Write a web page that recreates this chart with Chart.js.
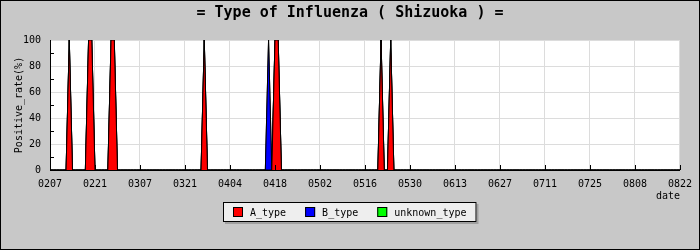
<!DOCTYPE html>
<html>
<head>
<meta charset="utf-8">
<title>Type of Influenza (Shizuoka)</title>
<style>
  html, body { margin: 0; padding: 0; background: #c8c8c8; }
  canvas { display: block; }
</style>
<script src="https://cdn.jsdelivr.net/npm/chart.js@4.4.1/dist/chart.umd.min.js"></script>
</head>
<body>
<canvas id="chart" width="700" height="250"></canvas>
<script>
// Axis labels, every 14 days from 02/07 to 08/22
const tickLabels = ['0207', '0221', '0307', '0321', '0404', '0418', '0502', '0516',
                    '0530', '0613', '0627', '0711', '0725', '0808', '0822'];
const dayCount = 197;           // 02/07 .. 08/22 inclusive
const tickStep = 14;

// Days (counted from 02/07) with positive samples, and the positive rate (%)
const aDays   = [6, 12, 13, 19, 20, 48, 70, 71, 103, 106];
const aRates  = [100, 100, 100, 100, 100, 100, 100, 100, 100, 100];
const bDays   = [68];
const bRates  = [100];
const unknownDays  = [];
const unknownRates = [];

const seriesNames  = ['A_type', 'B_type', 'unknown_type'];
const seriesColors = ['#ff0000', '#0000ff', '#00ff00'];

// One point per day; days without a report are 0 %
function dailySeries(days, rates) {
  const pts = [];
  for (let d = 0; d < dayCount; d++) {
    const k = days.indexOf(d);
    pts.push({ x: d, y: k >= 0 ? rates[k] : 0 });
  }
  return pts;
}

const MONO = '"DejaVu Sans Mono", "Liberation Mono", monospace';

// Grey page, white plot, inner tick marks, framed legend, outer border
const framePlugin = {
  id: 'frame',
  beforeDraw(chart) {
    const { ctx, chartArea: a, width, height } = chart;
    ctx.save();
    ctx.fillStyle = '#c8c8c8';
    ctx.fillRect(0, 0, width, height);
    ctx.fillStyle = '#ffffff';
    ctx.fillRect(a.left, a.top, a.right - a.left, a.bottom - a.top);
    ctx.restore();
  },
  afterDatasetsDraw(chart) {
    const { ctx, chartArea: a, scales } = chart;
    ctx.save();
    ctx.strokeStyle = '#000';
    ctx.lineWidth = 1;
    ctx.beginPath();
    // x ticks pointing into the plot
    scales.x.ticks.forEach(t => {
      const px = Math.round(scales.x.getPixelForValue(t.value)) + 0.5;
      ctx.moveTo(px, a.bottom);
      ctx.lineTo(px, a.bottom - 5);
    });
    // y minor ticks between the labelled ones
    const yt = scales.y.ticks;
    for (let i = 0; i < yt.length - 1; i++) {
      const mid = (yt[i].value + yt[i + 1].value) / 2;
      const py = Math.round(scales.y.getPixelForValue(mid)) + 0.5;
      ctx.moveTo(a.left, py);
      ctx.lineTo(a.left + 4, py);
    }
    ctx.stroke();
    ctx.restore();
  },
  afterDraw(chart) {
    const { ctx, width, height } = chart;
    ctx.save();
    // legend
    ctx.font = '10px ' + MONO;
    ctx.textBaseline = 'middle';
    const box = 10, textGap = 7, itemGap = 19, padX = 10;
    const items = chart.data.datasets.map(ds => ({
      text: ds.label, color: ds.backgroundColor,
      w: box + textGap + ctx.measureText(ds.label).width
    }));
    const total = items.reduce((s, it) => s + it.w, 0) + itemGap * (items.length - 1);
    const cy = 212;
    let x = Math.round(width / 2 - total / 2);
    const fx = x - padX, fy = cy - 10, fw = total + padX * 2, fh = 20;
    ctx.fillStyle = '#a0a0a0';
    ctx.fillRect(fx + 2, fy + 2, fw, fh);
    ctx.fillStyle = '#eeeeee';
    ctx.fillRect(fx, fy, fw, fh);
    ctx.strokeStyle = '#000';
    ctx.lineWidth = 1;
    ctx.strokeRect(fx + 0.5, fy + 0.5, fw - 1, fh - 1);
    items.forEach(it => {
      ctx.fillStyle = it.color;
      ctx.fillRect(x, cy - 5, box, box);
      ctx.strokeRect(x + 0.5, cy - 4.5, box - 1, box - 1);
      ctx.fillStyle = '#000';
      ctx.fillText(it.text, x + box + textGap, cy + 1);
      x += it.w + itemGap;
    });
    // outer border
    ctx.strokeStyle = '#000';
    ctx.strokeRect(0.5, 0.5, width - 1, height - 1);
    ctx.restore();
  }
};

const datasets = [
  [aDays, aRates], [bDays, bRates], [unknownDays, unknownRates]
].map(([days, rates], i) => ({
  label: seriesNames[i],
  data: dailySeries(days, rates),
  backgroundColor: seriesColors[i],
  borderColor: '#000000',
  borderWidth: 1,
  pointRadius: 0,
  tension: 0,
  fill: i === 0 ? 'origin' : '-1'
}));

new Chart(document.getElementById('chart'), {
  type: 'line',
  data: { datasets },
  options: {
    responsive: false,
    animation: false,
    events: [],
    layout: { padding: { left: 0, right: 0, top: 0, bottom: 48 } },
    plugins: {
      legend: { display: false },
      tooltip: { enabled: false },
      title: {
        display: true,
        text: '= Type of Influenza ( Shizuoka ) =',
        color: '#000',
        font: { family: MONO, size: 15, weight: 'bold', lineHeight: 1.2 },
        padding: { top: 4, bottom: 18 }
      }
    },
    scales: {
      x: {
        type: 'linear',
        min: 0,
        max: dayCount - 1,
        afterFit(s) { s.height = 32; },
        ticks: {
          stepSize: tickStep,
          autoSkip: false,
          maxRotation: 0,
          padding: 8,
          color: '#000',
          font: { family: MONO, size: 10 },
          callback: (v, i) => tickLabels[i]
        },
        grid: { color: '#dcdcdc', drawTicks: false },
        border: { color: '#000', width: 1 },
        title: {
          display: true, text: 'date', align: 'end', color: '#000',
          font: { family: MONO, size: 10 }, padding: { top: 0, bottom: 0 }
        }
      },
      y: {
        stacked: true,
        min: 0,
        max: 100,
        afterFit(s) { s.width = 50; },
        ticks: {
          stepSize: 20,
          padding: 9,
          color: '#000',
          font: { family: MONO, size: 10 }
        },
        grid: { color: '#dcdcdc', drawTicks: false },
        border: { color: '#000', width: 1 },
        title: {
          display: true, text: 'Positive_rate(%)', color: '#000',
          font: { family: MONO, size: 10 }, padding: { top: 13, bottom: 0 }
        }
      },
      yRight: {
        position: 'right',
        display: true,
        afterFit(s) { s.width = 19; },
        ticks: { display: false },
        grid: { display: false, drawOnChartArea: false, drawTicks: false },
        border: { display: false }
      }
    }
  },
  plugins: [framePlugin]
});
</script>
</body>
</html>
